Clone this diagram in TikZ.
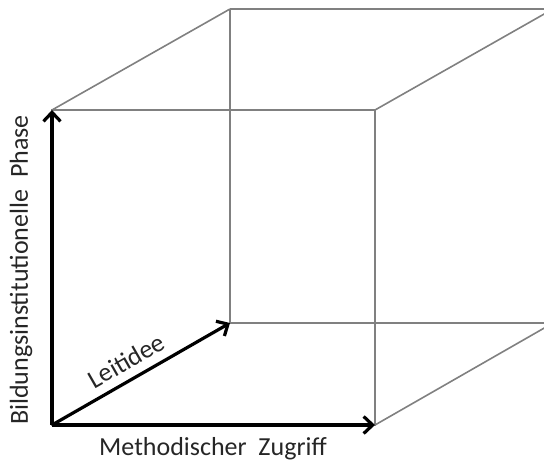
\documentclass[tikz,border=0pt]{standalone}
\usepackage{fontspec}
\setmainfont{Carlito}
\usetikzlibrary{arrows.meta}
\definecolor{edge}{RGB}{128,128,128}

\begin{document}
\begin{tikzpicture}[
  x=1pt, y=-1pt,
  font=\fontsize{26}{30}\selectfont,
  >={Straight Barb[length=9pt, width=17pt]},
  kante/.style={draw=edge, line width=1.6pt},
  achse/.style={->, draw=black, line width=3.2pt},
  lab/.style={inner sep=0pt, text=black!85}
]
\useasboundingbox (0,0) rectangle (544,463);
\clip (0,0) rectangle (544,463);

% ---------------- cube corners ----------------
\coordinate (o)  at (52,425);
\coordinate (fr) at (375,425);
\coordinate (ft) at (52,110);
\coordinate (ftr) at (375,110);
\coordinate (bo)  at (230,323);
\coordinate (br)  at (553,323);
\coordinate (bt)  at (230,9);
\coordinate (btr) at (553,9);

% ---------------- gray wireframe ----------------
\draw[kante] (bt) -- (btr);
\draw[kante] (bt) -- (bo) -- (br);
\draw[kante] (btr) -- (br);
\draw[kante] (ft) -- (ftr) -- (fr) -- (o) -- cycle;
\draw[kante] (ft) -- (bt);
\draw[kante] (ftr) -- (btr);
\draw[kante] (fr) -- (br);

% ---------------- axes ----------------
\draw[achse] (o) -- (bo) node[pos=0.47, sloped, above=8pt, lab] (leit) {Leitidee};
\draw[achse] (o) -- (ft);
\draw[achse] (o) -- (fr);

% ---------------- axis labels ----------------
\node[lab, rotate=90] (phase) at (21,270) {Bildungsinstitutionelle\ \ Phase};
\node[lab] (zugriff) at (213,449) {Methodischer\ \ Zugriff};

\end{tikzpicture}
\end{document}
